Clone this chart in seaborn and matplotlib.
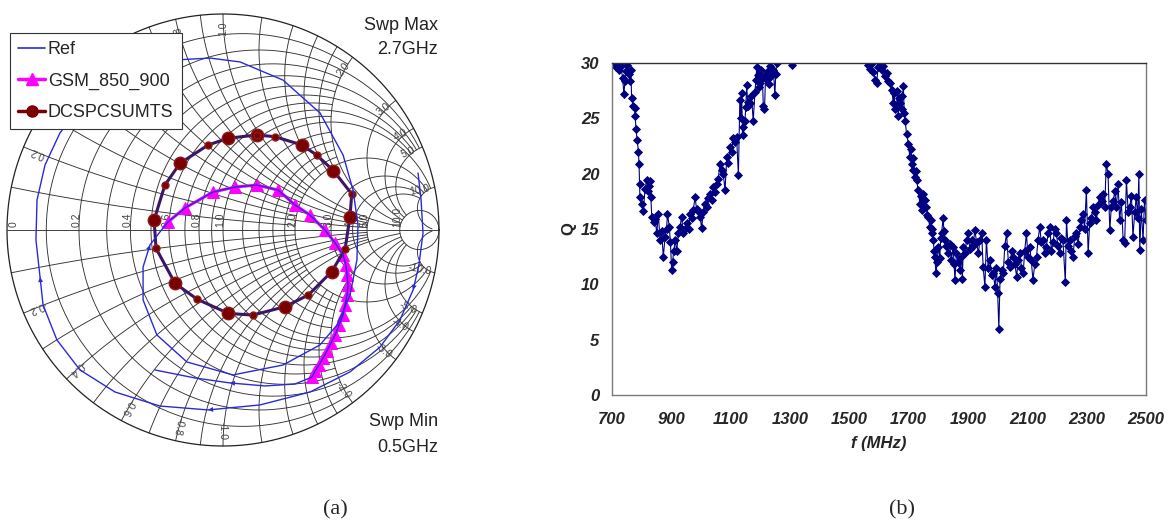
import numpy as np
import pandas as pd
import matplotlib.pyplot as plt
import seaborn as sns
from matplotlib.lines import Line2D

# ---------------------------------------------
# (b) Q vs frequency
# ---------------------------------------------
f_low = [706, 712, 718, 724, 730, 736, 740, 744, 748, 752, 756, 760, 764, 766, 772, 776, 778,
         781, 785, 789, 791, 793, 794, 800, 806, 811, 817, 822, 825, 828, 831, 834, 840, 845,
         851, 856, 862, 867, 873, 879, 884, 887, 893, 897, 901, 904, 908, 913, 918, 924, 929,
         935, 940, 946, 952, 958, 963, 969, 974, 980, 985, 991, 997, 1002, 1008, 1013, 1019,
         1025, 1030, 1036, 1042, 1047, 1053, 1058, 1064, 1070, 1075, 1081, 1087, 1092, 1098,
         1103, 1109, 1114, 1120, 1126, 1131, 1134, 1137, 1140, 1143, 1148, 1151, 1154, 1157,
         1160, 1165, 1170, 1176, 1182, 1185, 1188, 1192, 1196, 1199, 1203, 1207, 1210, 1214,
         1218, 1221, 1225, 1229, 1233, 1237, 1241, 1244, 1249, 1252, 1255]
q_low = [29.9, 29.6, 29.8, 29.4, 29.7, 28.6, 27.2, 28.4, 29.3, 29.8, 29.0, 28.4, 29.4, 26.8,
         26.1, 25.9, 25.2, 24.0, 23.0, 22.0, 20.9, 19.1, 17.9, 17.3, 16.6, 18.6, 19.4, 18.4,
         18.9, 19.3, 17.9, 16.1, 15.6, 15.9, 14.6, 16.4, 14.0, 14.8, 12.5, 14.3, 15.0, 16.4,
         15.2, 13.8, 11.3, 12.0, 13.0, 14.0, 13.0, 14.6, 15.2, 16.1, 14.6, 15.0, 15.5, 15.0,
         16.4, 16.0, 16.7, 17.9, 16.8, 16.6, 16.1, 15.1, 16.5, 17.3, 17.0, 17.8, 18.2, 17.6,
         18.8, 18.3, 19.1, 19.5, 20.9, 20.3, 20.0, 18.5, 21.5, 21.0, 22.4, 22.0, 23.2, 22.9,
         23.3, 19.9, 26.7, 25.0, 27.3, 23.5, 24.2, 24.8, 26.0, 28.0, 26.5, 26.1, 26.4, 27.0,
         24.8, 27.4, 28.5, 29.6, 28.9, 27.8, 28.2, 29.4, 28.6, 26.1, 25.8, 29.0, 28.5, 29.3,
         28.1, 29.7, 28.8, 29.5, 29.4, 27.1, 29.0, 30.0]
f_mid = [1308]
q_mid = [29.8]
f_high = [1564, 1570, 1576, 1581, 1587, 1592, 1597, 1603, 1609, 1615, 1620, 1626, 1631, 1637,
          1643, 1648, 1651, 1654, 1659, 1662, 1665, 1668, 1671, 1676, 1679, 1682, 1685, 1688,
          1693, 1699, 1704, 1707, 1710, 1713, 1716, 1721, 1724, 1727, 1732, 1738, 1741, 1744,
          1749, 1752, 1755, 1760, 1763, 1766, 1771, 1774, 1777, 1780, 1783, 1786, 1788, 1792,
          1796, 1800, 1805, 1808, 1811, 1816, 1819, 1822, 1827, 1833, 1838, 1844, 1850, 1853,
          1856, 1861, 1867, 1873, 1878, 1881, 1884, 1890, 1895, 1901, 1906, 1912, 1917, 1923,
          1929, 1935, 1940, 1946, 1951, 1957, 1962, 1968, 1974, 1980, 1985, 1991, 1996, 2000,
          2004, 2008, 2013, 2019, 2024, 2030, 2036, 2041, 2047, 2052, 2058, 2064, 2069, 2075,
          2080, 2086, 2091, 2097, 2102, 2108, 2113, 2119, 2125, 2131, 2136, 2142, 2147, 2153,
          2158, 2164, 2170, 2176, 2181, 2187, 2192, 2198, 2203, 2209, 2214, 2220, 2228, 2232,
          2237, 2243, 2248, 2254, 2260, 2265, 2271, 2277, 2282, 2288, 2293, 2299, 2305, 2310,
          2316, 2322, 2327, 2333, 2338, 2344, 2350, 2355, 2361, 2366, 2372, 2378, 2383, 2389,
          2395, 2400, 2406, 2411, 2417, 2423, 2428, 2434, 2440, 2445, 2451, 2456, 2462, 2467,
          2472, 2476, 2479, 2484, 2490, 2495, 2500]
q_high = [29.8, 29.5, 30.0, 29.2, 28.5, 28.2, 29.6, 30.0, 29.4, 29.7, 28.8, 29.1, 28.4, 28.2,
          27.6, 26.4, 27.3, 25.8, 26.1, 27.5, 25.2, 26.8, 26.4, 25.8, 27.0, 27.9, 25.5, 24.8,
          23.6, 22.7, 21.5, 22.2, 20.9, 21.4, 20.3, 19.7, 20.2, 19.4, 18.5, 17.3, 18.0, 16.7,
          18.2, 17.0, 17.6, 17.0, 16.3, 16.1, 15.2, 15.8, 14.6, 15.0, 14.0, 13.0, 12.5, 11.0,
          12.0, 13.4, 12.4, 14.2, 14.6, 16.0, 14.8, 14.0, 13.5, 12.8, 13.6, 12.2, 13.4, 11.8,
          10.4, 12.8, 12.0, 11.3, 12.5, 10.5, 13.4, 12.8, 14.0, 14.6, 13.2, 14.0, 13.5, 14.9,
          13.8, 12.8, 14.0, 14.6, 11.6, 9.8, 14.0, 11.5, 12.2, 10.8, 11.0, 9.8, 11.5, 9.2,
          6.0, 10.5, 11.3, 11.0, 13.5, 14.6, 12.0, 11.6, 13.0, 12.5, 11.8, 10.7, 12.2, 12.8,
          11.5, 11.0, 13.0, 14.6, 12.5, 13.4, 12.2, 10.4, 11.8, 12.5, 14.0, 15.2, 13.8, 14.0,
          12.8, 13.4, 14.6, 15.2, 13.0, 13.8, 15.0, 14.6, 13.5, 12.8, 14.2, 14.0, 10.2, 15.8,
          13.5, 14.0, 13.0, 12.5, 14.4, 14.6, 13.6, 15.2, 15.8, 16.4, 15.0, 18.5, 12.8, 15.5,
          16.0, 17.0, 16.5, 15.8, 17.2, 17.9, 17.5, 18.2, 17.0, 20.9, 20.0, 14.9, 17.0, 17.5,
          18.4, 17.0, 19.1, 15.8, 17.4, 14.0, 13.7, 19.4, 16.5, 17.0, 18.0, 14.3, 16.5, 17.9,
          16.0, 20.0, 13.1, 16.8, 14.0, 17.6, 15.8]
f_ticks = [700, 900, 1100, 1300, 1500, 1700, 1900, 2100, 2300, 2500]
q_ticks = [0, 5, 10, 15, 20, 25, 30]

# ---------------------------------------------
# (a) Smith chart traces (reflection coefficient, re / im)
# ---------------------------------------------
ref_head_re = [0.903, 0.917, 0.926, 0.907, 0.880, 0.819, 0.727, 0.588, 0.403, 0.171, -0.069,
               -0.292, -0.500, -0.662, -0.769, -0.833, -0.847, -0.866, -0.861, -0.824, -0.755,
               -0.662, -0.523, -0.384, -0.222, -0.060, 0.079, 0.278, 0.449, 0.556, 0.602, 0.625,
               0.620, 0.588, 0.528, 0.449, 0.278, 0.046, -0.167, -0.306, -0.370, -0.370, -0.338,
               -0.292]
ref_head_im = [0.264, 0.139, -0.014, -0.162, -0.278, -0.417, -0.542, -0.657, -0.750, -0.810,
               -0.833, -0.815, -0.750, -0.648, -0.509, -0.347, -0.218, -0.046, 0.139, 0.301,
               0.449, 0.569, 0.685, 0.755, 0.787, 0.796, 0.778, 0.694, 0.542, 0.347, 0.185,
               0.023, -0.139, -0.301, -0.440, -0.532, -0.625, -0.671, -0.611, -0.486, -0.324,
               -0.171, -0.069, -0.009]
ref_tail_re = [0.333, 0.194, 0.032, -0.130, -0.315]
ref_tail_im = [-0.713, -0.722, -0.708, -0.685, -0.648]

gsm_re = [-0.255, -0.176, -0.046, 0.056, 0.157, 0.255, 0.333, 0.403, 0.472, 0.519, 0.556, 0.569,
          0.574, 0.579, 0.574, 0.565, 0.556, 0.537, 0.519, 0.500, 0.481, 0.463, 0.444, 0.426,
          0.412]
gsm_im = [0.037, 0.102, 0.176, 0.199, 0.208, 0.185, 0.116, 0.069, 0.0, -0.060, -0.116, -0.162,
          -0.208, -0.255, -0.301, -0.347, -0.394, -0.440, -0.486, -0.523, -0.560, -0.593, -0.625,
          -0.653, -0.681]

dcs_re = [0.156, 0.241, 0.364, 0.434, 0.511, 0.596, 0.588, 0.565, 0.503, 0.395, 0.287, 0.138,
          0.025, -0.119, -0.222, -0.310, -0.319, -0.269, -0.199, -0.068, 0.025, 0.156]
dcs_im = [0.440, 0.432, 0.394, 0.347, 0.275, 0.167, 0.062, -0.089, -0.193, -0.301, -0.355,
          -0.394, -0.386, -0.321, -0.247, -0.085, 0.046, 0.208, 0.309, 0.394, 0.425, 0.440]

r_labels = [0.2, 0.4, 0.6, 0.8, 1.0, 2.0, 3.0, 4.0, 5.0, 10.0]
x_labels = [0.2, 0.4, 0.6, 0.8, 1.0, 2.0, 3.0, 4.0, 5.0, 10.0]

# ---------------------------------------------
# Figure
# ---------------------------------------------
sns.set_style('white')
plt.rcParams['font.family'] = ['Liberation Sans', 'DejaVu Sans']

W, H = 1172, 523
fig = plt.figure(figsize=(W / 100, H / 100), dpi=100)


def fig_box(x0, y0, x1, y1):
    # pixel box (top-left origin) -> figure fraction rect
    return [x0 / W, 1 - y1 / H, (x1 - x0) / W, (y1 - y0) / H]


# ---------- Smith chart ----------
cx, cy, R = 223, 230, 216
L = 1.02
ax = fig.add_axes(fig_box(cx - R * L, cy - R * L, cx + R * L, cy + R * L))
ax.set_xlim(-L, L)
ax.set_ylim(-L, L)
ax.set_aspect('equal')
ax.axis('off')

grid_kw = dict(color='#333333', lw=0.65, zorder=1)


def r_circle(r, xmax):
    t = np.linspace(-np.arctan(xmax), np.arctan(xmax), 300)
    z = r + 1j * np.tan(t)
    g = (z - 1) / (z + 1)
    return g.real, g.imag


def x_arc(x, rmax):
    t = np.linspace(0, np.arctan(rmax), 300)
    z = np.tan(t) + 1j * x
    g = (z - 1) / (z + 1)
    return g.real, g.imag


grid_r = [(0.1, 2), (0.3, 2), (0.5, 2), (0.7, 2), (0.9, 2), (1.2, 2), (1.4, 2), (1.6, 2),
          (1.8, 2), (0.2, 5), (0.4, 5), (0.6, 5), (0.8, 5), (1.0, 10), (2.0, 10), (3.0, 10),
          (4.0, 10), (5.0, 10), (10.0, np.inf)]
grid_x = [(0.1, 2), (0.3, 2), (0.5, 2), (0.7, 2), (0.9, 2), (1.2, 2), (1.4, 2), (1.6, 2),
          (1.8, 2), (0.2, 5), (0.4, 5), (0.6, 5), (0.8, 5), (1.0, 10), (2.0, 10), (3.0, 10),
          (4.0, 10), (5.0, 10), (10.0, 60)]
for r, xm in grid_r:
    gx, gy = r_circle(r, xm)
    ax.plot(gx, gy, **grid_kw)
for xv, rm in grid_x:
    for s in (1, -1):
        gx, gy = x_arc(s * xv, rm)
        ax.plot(gx, gy, **grid_kw)
th = np.linspace(0, 2 * np.pi, 400)
ax.plot(np.cos(th), np.sin(th), color='#222222', lw=0.9, zorder=1)
ax.plot([-1, 1], [0, 0], **grid_kw)

# axis / rim labels
lab_kw = dict(fontsize=7.5, color='#444444', zorder=2)
ax.text(-0.97, 0.012, '0', rotation=90, ha='center', va='bottom', **lab_kw)
for r in r_labels:
    g = (r - 1) / (r + 1)
    ax.text(g - 0.012, 0.012, f'{r:.1f}', rotation=90, ha='center', va='bottom', **lab_kw)
for xv in x_labels:
    for s in (1, -1):
        z = 1j * s * xv
        g = (z - 1) / (z + 1)
        ang = np.degrees(np.angle(g))
        p = 0.93 * g
        ax.text(p.real, p.imag, f'{s * xv:.1f}', rotation=ang, ha='center', va='center',
                rotation_mode='anchor', **lab_kw)

# traces
ref_re = ref_head_re + gsm_re + ref_tail_re
ref_im = ref_head_im + gsm_im + ref_tail_im
ref_df = pd.DataFrame({'re': ref_re, 'im': ref_im})
gsm_df = pd.DataFrame({'re': gsm_re, 'im': gsm_im})
dcs_df = pd.DataFrame({'re': dcs_re, 'im': dcs_im})

sns.lineplot(data=gsm_df, x='re', y='im', sort=False, estimator=None, ax=ax, color='#ff00ff',
             lw=2.2, marker='^', markersize=8, mec='#ff00ff', zorder=3)
sns.lineplot(data=dcs_df, x='re', y='im', sort=False, estimator=None, ax=ax, color='#3b1566',
             lw=2.2, zorder=3)
ax.plot(dcs_df['re'][0::2], dcs_df['im'][0::2], ls='none', marker='o', ms=9, color='#7a0000',
        mec='#8b1a1a', zorder=4)
ax.plot(dcs_df['re'][1::2], dcs_df['im'][1::2], ls='none', marker='o', ms=5, color='#7a0000',
        mec='#8b1a1a', zorder=4)
sns.lineplot(data=ref_df, x='re', y='im', sort=False, estimator=None, ax=ax, color='#2a2ad8',
             lw=1.0, zorder=5)
for i in [4, 10, 16, 42, 71]:
    ax.annotate('', xy=(ref_re[i], ref_im[i]), xytext=(ref_re[i - 1], ref_im[i - 1]),
                arrowprops=dict(arrowstyle='-|>', color='#2a2ad8', lw=0, mutation_scale=9,
                                shrinkA=0, shrinkB=0), zorder=6)
ax.set_xlabel('')
ax.set_ylabel('')

handles = [Line2D([], [], color='#2a2ad8', lw=1.2),
           Line2D([], [], color='#ff00ff', lw=2.5, marker='^', ms=8),
           Line2D([], [], color='#7a0000', lw=2.5, marker='o', ms=8)]
leg = ax.legend(handles, ['Ref', 'GSM_850_900', 'DCSPCSUMTS'], loc='upper left',
                bbox_to_anchor=(10 / W, 1 - 33 / H), bbox_transform=fig.transFigure,
                frameon=True, fancybox=False, framealpha=1, edgecolor='#333333',
                fontsize=13, handlelength=1.5, handletextpad=0.15, labelspacing=0.8,
                borderpad=0.45, borderaxespad=0)
leg.get_frame().set_linewidth(0.8)
leg.set_zorder(10)

txt_kw = dict(fontsize=13, color='#222222', ha='right')
fig.text(438 / W, 1 - 25 / H, 'Swp Max', va='center', **txt_kw)
fig.text(438 / W, 1 - 50 / H, '2.7GHz', va='center', **txt_kw)
fig.text(438 / W, 1 - 422 / H, 'Swp Min', va='center', **txt_kw)
fig.text(438 / W, 1 - 447 / H, '0.5GHz', va='center', **txt_kw)

# ---------- Q vs f ----------
q_df = pd.concat([
    pd.DataFrame({'f': f_low, 'Q': q_low, 'seg': 0}),
    pd.DataFrame({'f': f_mid, 'Q': q_mid, 'seg': 1}),
    pd.DataFrame({'f': f_high, 'Q': q_high, 'seg': 2}),
])
ax2 = fig.add_axes(fig_box(612, 63, 1146, 395))
sns.lineplot(data=q_df, x='f', y='Q', units='seg', estimator=None, sort=False, ax=ax2,
             color='#000080', lw=0.8, marker='D', markersize=4.3, mec='#000080', mew=0.6)
ax2.set_xlim(700, 2500)
ax2.set_ylim(0, 30)
ax2.set_xticks(f_ticks)
ax2.set_yticks(q_ticks)
for sp in ax2.spines.values():
    sp.set_color('#7a7a7a')
    sp.set_linewidth(1.0)
ax2.spines['top'].set_color('#333333')
ax2.tick_params(axis='both', direction='out', length=4, width=1, color='#7a7a7a',
                labelsize=12, pad=5)
ax2.tick_params(axis='x', pad=8)
for lab in ax2.get_xticklabels() + ax2.get_yticklabels():
    lab.set_fontweight('bold')
    lab.set_fontstyle('italic')
ax2.set_xlabel('f (MHz)', fontsize=12, fontweight='bold', fontstyle='italic', labelpad=7)
ax2.set_ylabel('Q', fontsize=12, fontweight='bold', labelpad=3)

# panel captions
cap_kw = dict(fontsize=16, family=['Liberation Serif', 'DejaVu Serif'], ha='center',
              va='center')
fig.text(335 / W, 1 - 510 / H, '(a)', **cap_kw)
fig.text(902 / W, 1 - 510 / H, '(b)', **cap_kw)

fig.savefig('out.png', dpi=100)
